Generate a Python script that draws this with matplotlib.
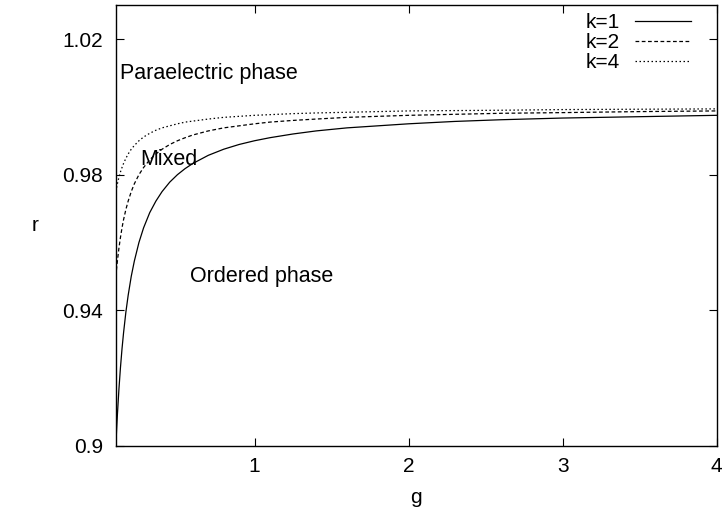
import matplotlib.pyplot as plt
import numpy as np

plt.rcParams['font.family'] = ['Liberation Sans', 'DejaVu Sans']
plt.rcParams['font.size'] = 15

# phase boundary r(g) for each k
g = [0.1, 0.105, 0.11, 0.12, 0.13, 0.14, 0.15, 0.165, 0.18, 0.2, 0.22, 0.25,
     0.28, 0.32, 0.36, 0.4, 0.45, 0.5, 0.55, 0.6, 0.7, 0.8, 0.9, 1.0, 1.1,
     1.25, 1.4, 1.6, 1.8, 2.0, 2.3, 2.6, 3.0, 3.5, 4.0]
r_k1 = [0.9000, 0.9048, 0.9091, 0.9167, 0.9231, 0.9286, 0.9333, 0.9394,
        0.9444, 0.9500, 0.9545, 0.9600, 0.9643, 0.9688, 0.9722, 0.9750,
        0.9778, 0.9800, 0.9818, 0.9833, 0.9857, 0.9875, 0.9889, 0.9900,
        0.9909, 0.9920, 0.9929, 0.9938, 0.9944, 0.9950, 0.9957, 0.9962,
        0.9967, 0.9971, 0.9975]
r_k2 = [0.9500, 0.9524, 0.9545, 0.9583, 0.9615, 0.9643, 0.9667, 0.9697,
        0.9722, 0.9750, 0.9773, 0.9800, 0.9821, 0.9844, 0.9861, 0.9875,
        0.9889, 0.9900, 0.9909, 0.9917, 0.9929, 0.9938, 0.9944, 0.9950,
        0.9955, 0.9960, 0.9964, 0.9969, 0.9972, 0.9975, 0.9978, 0.9981,
        0.9983, 0.9986, 0.9988]
r_k4 = [0.9750, 0.9762, 0.9773, 0.9792, 0.9808, 0.9821, 0.9833, 0.9848,
        0.9861, 0.9875, 0.9886, 0.9900, 0.9911, 0.9922, 0.9931, 0.9938,
        0.9944, 0.9950, 0.9955, 0.9958, 0.9964, 0.9969, 0.9972, 0.9975,
        0.9977, 0.9980, 0.9982, 0.9984, 0.9986, 0.9988, 0.9989, 0.9990,
        0.9992, 0.9993, 0.9994]

xticks = [1, 2, 3, 4]
yticks = [0.9, 0.94, 0.98, 1.02]

fig = plt.figure(figsize=(7.24, 5.16), dpi=100)
ax = fig.add_axes([0.160, 0.136, 0.830, 0.854])

ax.plot(g, r_k1, color='black', lw=0.9, ls='-', label='k=1')
ax.plot(g, r_k2, color='black', lw=0.9, ls=(0, (3, 2)), label='k=2')
ax.plot(g, r_k4, color='black', lw=0.9, ls=(0, (1.2, 2)), label='k=4')

ax.set_xlim(0.1, 4)
ax.set_ylim(0.9, 1.03)
ax.set_xticks(xticks)
ax.set_xticklabels([str(t) for t in xticks])
ax.set_yticks(yticks)
ax.set_yticklabels(['0.9', '0.94', '0.98', '1.02'])
ax.tick_params(direction='in', top=True, right=True, length=6, width=0.8)
ax.tick_params(axis='x', pad=8)
ax.tick_params(axis='y', pad=9)
for s in ax.spines.values():
    s.set_linewidth(1.0)

ax.set_xlabel('g', labelpad=9)
ax.set_ylabel('r', rotation=0, labelpad=20, va='center')

ax.text(0.126, 1.0099, 'Paraelectric phase', va='center', fontsize=15.5)
ax.text(0.256, 0.9846, 'Mixed', va='center', fontsize=15.5)
ax.text(0.58, 0.9500, 'Ordered phase', va='center', fontsize=15.5)

leg = ax.legend(loc='upper right', bbox_to_anchor=(0.978, 1.011),
                frameon=False, markerfirst=False,
                handlelength=2.7, handletextpad=0.7, labelspacing=0.05,
                borderaxespad=0.2)

fig.savefig('out.png', dpi=100)
